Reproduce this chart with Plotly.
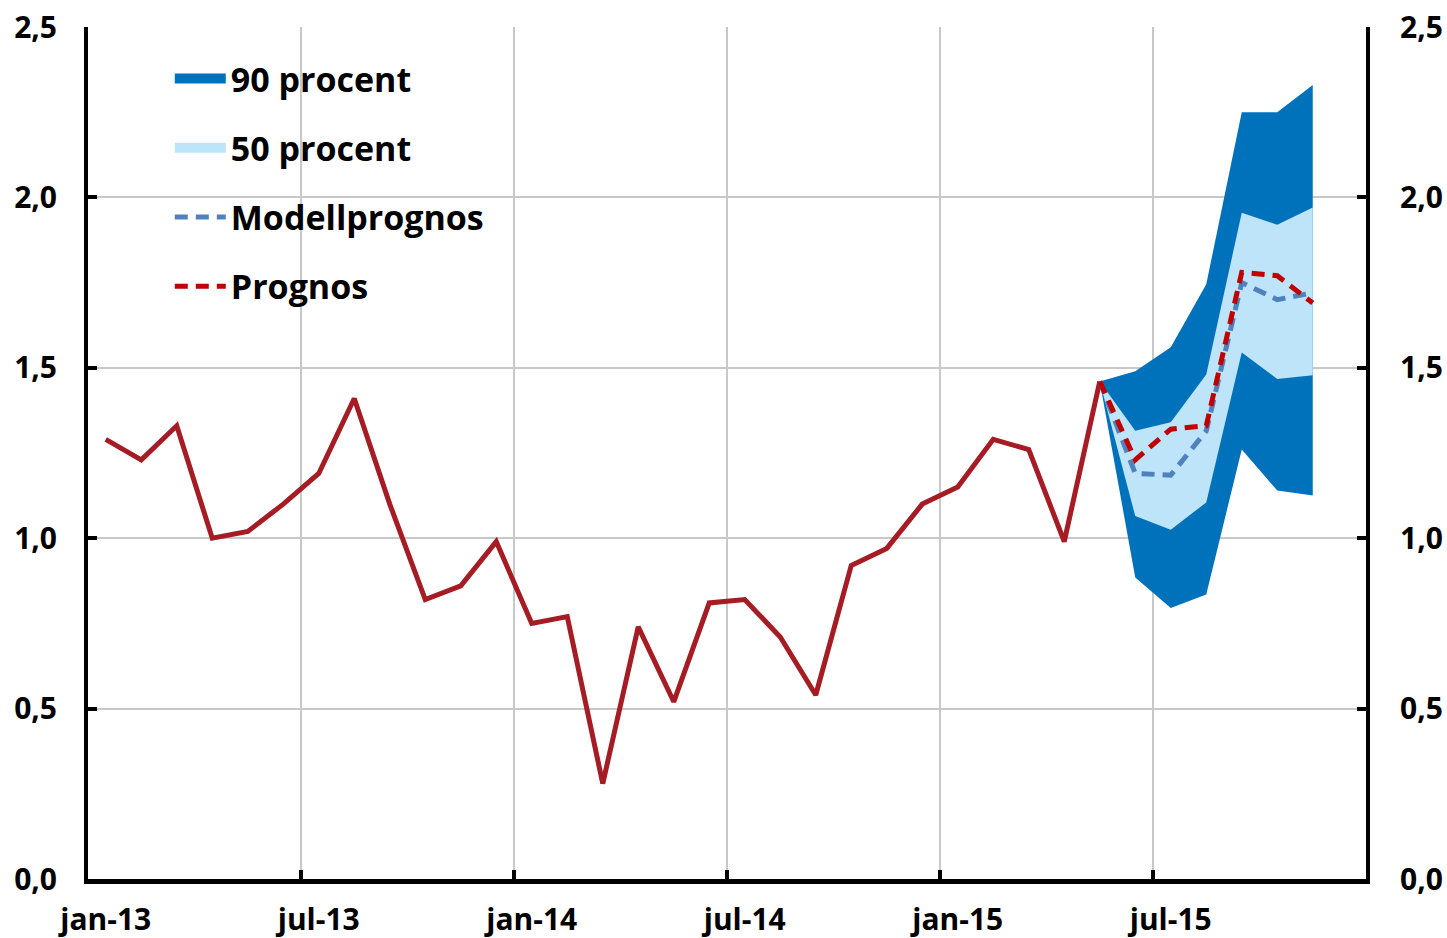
"""
KPIF-prognos med osäkerhetsband (90 / 50 procent), jan-13 till dec-15
"""

import plotly.graph_objects as go

# månader på x-axeln (kategorier)
months = [
    "jan-13", "feb-13", "mar-13", "apr-13", "maj-13", "jun-13",
    "jul-13", "aug-13", "sep-13", "okt-13", "nov-13", "dec-13",
    "jan-14", "feb-14", "mar-14", "apr-14", "maj-14", "jun-14",
    "jul-14", "aug-14", "sep-14", "okt-14", "nov-14", "dec-14",
    "jan-15", "feb-15", "mar-15", "apr-15", "maj-15", "jun-15",
    "jul-15", "aug-15", "sep-15", "okt-15", "nov-15", "dec-15",
]
tick_labels = ["jan-13", "jul-13", "jan-14", "jul-14", "jan-15", "jul-15"]

# utfall jan-13 .. maj-15
actual = [
    1.29, 1.23, 1.33, 1.00, 1.02, 1.10, 1.19, 1.41, 1.10, 0.82, 0.86, 0.99,
    0.75, 0.77, 0.28, 0.74, 0.52, 0.81, 0.82, 0.71, 0.54, 0.92, 0.97, 1.10,
    1.15, 1.29, 1.26, 0.99, 1.46,
]

# prognosperiod maj-15 .. nov-15
fc_months = ["maj-15", "jun-15", "jul-15", "aug-15", "sep-15", "okt-15", "nov-15"]
prognos = [1.46, 1.23, 1.32, 1.33, 1.78, 1.77, 1.69]
modell = [1.46, 1.19, 1.185, 1.315, 1.75, 1.70, 1.72]
upper90 = [1.46, 1.49, 1.56, 1.745, 2.25, 2.25, 2.33]
lower90 = [1.46, 0.885, 0.795, 0.835, 1.26, 1.14, 1.125]
upper50 = [1.46, 1.315, 1.34, 1.48, 1.955, 1.92, 1.97]
lower50 = [1.46, 1.065, 1.025, 1.105, 1.545, 1.467, 1.478]

idx = {m: i for i, m in enumerate(months)}
x_act = [idx[m] for m in months[:len(actual)]]
x_fc = [idx[m] for m in fc_months]

DARK_BLUE = "#0072bb"
LIGHT_BLUE = "#bde4f8"
RED = "#a51c24"
RED_DASH = "#c00000"
BLUE_DASH = "#4f81bd"
FONT = "Open Sans"
DASH = "13px,8px"

fig = go.Figure()

# band som slutna polygoner (övre kant fram, undre kant tillbaka)
fig.add_trace(go.Scatter(
    x=x_fc + x_fc[::-1], y=upper90 + lower90[::-1],
    fill="toself", fillcolor=DARK_BLUE, line=dict(width=0, color=DARK_BLUE),
    mode="lines", showlegend=False, hoverinfo="skip",
))
fig.add_trace(go.Scatter(
    x=x_fc + x_fc[::-1], y=upper50 + lower50[::-1],
    fill="toself", fillcolor=LIGHT_BLUE, line=dict(width=0, color=LIGHT_BLUE),
    mode="lines", showlegend=False, hoverinfo="skip",
))
# legendposter för banden (tjock linje = rektangel i legenden)
fig.add_trace(go.Scatter(x=[None], y=[None], mode="lines", name="90 procent",
                         legendgroup="a", line=dict(color=DARK_BLUE, width=17)))
fig.add_trace(go.Scatter(x=[None], y=[None], mode="lines", name="50 procent",
                         legendgroup="b", line=dict(color=LIGHT_BLUE, width=17)))
fig.add_trace(go.Scatter(
    x=x_act, y=actual, mode="lines", line=dict(color=RED, width=5),
    showlegend=False,
))
fig.add_trace(go.Scatter(
    x=x_fc, y=modell, mode="lines", name="Modellprognos", legendgroup="c",
    line=dict(color=BLUE_DASH, width=5, dash=DASH),
))
fig.add_trace(go.Scatter(
    x=x_fc, y=prognos, mode="lines", name="Prognos", legendgroup="d",
    line=dict(color=RED_DASH, width=5, dash=DASH),
))
# osynlig trace för höger axel
fig.add_trace(go.Scatter(x=[0], y=[0], yaxis="y2", mode="markers",
                         marker=dict(opacity=0), showlegend=False, hoverinfo="skip"))

tick_font = dict(family=FONT, size=30, color="black", weight="bold")
grid_pos = [idx[m] - 0.5 for m in tick_labels[1:]]
yvals = [0, 0.5, 1.0, 1.5, 2.0, 2.5]
ytext = ["0,0", "0,5", "1,0", "1,5", "2,0", "2,5"]

fig.update_layout(
    width=1447, height=938,
    margin=dict(l=88, r=81, t=27, b=59),
    plot_bgcolor="white", paper_bgcolor="white",
    font=dict(family=FONT, color="black"),
    showlegend=True,
    legend=dict(
        x=0.064, y=0.973, xanchor="left", yanchor="top",
        bgcolor="rgba(0,0,0,0)", font=dict(family=FONT, size=34, color="black", weight="bold"),
        tracegroupgap=22, itemwidth=51,
    ),
    xaxis=dict(
        range=[-0.5, len(months) - 0.5], automargin=False,
        tickmode="array", tickvals=[idx[m] for m in tick_labels], ticktext=tick_labels,
        ticks="", showgrid=False, zeroline=False,
        showline=True, linecolor="black", linewidth=4.5,
        tickfont=tick_font, ticklabelstandoff=10,
        minor=dict(tickmode="array", tickvals=grid_pos, showgrid=True,
                   gridcolor="#c8c8c8", gridwidth=1.5,
                   ticks="inside", ticklen=9, tickwidth=4, tickcolor="black"),
    ),
    yaxis=dict(
        range=[0, 2.5], tickvals=yvals, ticktext=ytext, automargin=False,
        showgrid=True, gridcolor="#c8c8c8", gridwidth=1.5, zeroline=False,
        showline=True, linecolor="black", linewidth=4,
        ticks="inside", ticklen=9, tickwidth=4, tickcolor="black",
        tickfont=tick_font, ticklabelstandoff=21,
    ),
    yaxis2=dict(
        range=[0, 2.5], tickvals=yvals, ticktext=ytext, automargin=False,
        overlaying="y", side="right", showgrid=False, zeroline=False,
        showline=True, linecolor="black", linewidth=4,
        ticks="inside", ticklen=9, tickwidth=4, tickcolor="black",
        tickfont=tick_font, ticklabelstandoff=24,
    ),
)

fig.write_html("out.html", config={"displayModeBar": False},
               post_script="document.body.style.margin='0';")
